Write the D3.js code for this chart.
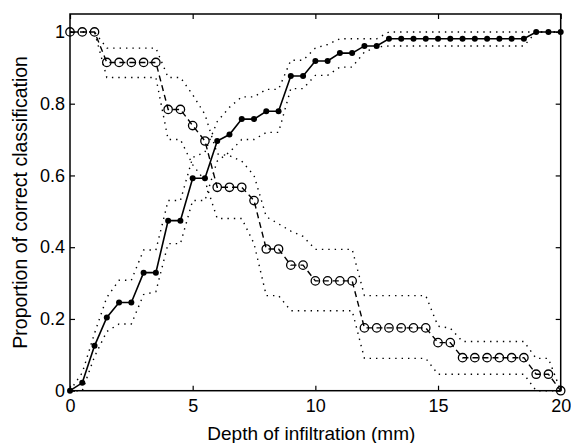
<!DOCTYPE html>
<html>
<head>
<meta charset="utf-8">
<script src="https://cdn.jsdelivr.net/npm/d3@7"></script>
<style>
  html, body { margin: 0; padding: 0; background: #fff; }
  svg { display: block; }
  text { font-family: "Liberation Sans", Arial, Helvetica, sans-serif; }
</style>
</head>
<body>
<svg id="chart" width="571" height="443"></svg>
<script>
// Depth of infiltration (mm)
const depth = [0, 0.5, 1, 1.5, 2, 2.5, 3, 3.5, 4, 4.5, 5, 5.5, 6, 6.5, 7, 7.5, 8, 8.5, 9, 9.5,
               10, 10.5, 11, 11.5, 12, 12.5, 13, 13.5, 14, 14.5, 15, 15.5, 16, 16.5, 17, 17.5, 18, 18.5, 19, 19.5, 20];

// Increasing series (filled dots, solid line)
const incValues = [0, 0.022, 0.125, 0.204, 0.246, 0.246, 0.329, 0.329, 0.474, 0.474,
                   0.592, 0.592, 0.696, 0.714, 0.757, 0.757, 0.779, 0.779, 0.877, 0.877,
                   0.919, 0.919, 0.941, 0.941, 0.961, 0.961, 0.981, 0.981, 0.981, 0.981,
                   0.981, 0.981, 0.981, 0.981, 0.981, 0.981, 0.981, 0.981, 1, 1, 1];
const incUpper = [0, 0.05, 0.16, 0.26, 0.308, 0.308, 0.392, 0.392, 0.53, 0.53,
                  0.65, 0.665, 0.75, 0.79, 0.819, 0.819, 0.84, 0.84, 0.921, 0.921,
                  0.955, 0.965, 0.981, 0.981, 0.981, 0.981, 1, 1, 1, 1,
                  1, 1, 1, 1, 1, 1, 1, 1, 1, 1, 1];
const incLower = [0, 0, 0.095, 0.165, 0.186, 0.186, 0.268, 0.276, 0.41, 0.41,
                  0.53, 0.53, 0.64, 0.665, 0.70, 0.70, 0.72, 0.72, 0.842, 0.842,
                  0.879, 0.879, 0.902, 0.902, 0.944, 0.958, 0.961, 0.961, 0.961, 0.961,
                  0.961, 0.961, 0.961, 0.961, 0.961, 0.961, 0.961, 0.961, 1, 1, 1];

// Decreasing series (open circles, dashed line)
const decValues = [1, 1, 1, 0.915, 0.915, 0.915, 0.915, 0.915, 0.784, 0.784,
                   0.739, 0.696, 0.567, 0.567, 0.567, 0.53, 0.395, 0.395, 0.35, 0.35,
                   0.306, 0.306, 0.306, 0.306, 0.175, 0.175, 0.175, 0.175, 0.175, 0.175,
                   0.134, 0.134, 0.092, 0.092, 0.092, 0.092, 0.092, 0.092, 0.046, 0.046, 0];
const decUpper = [1, 1, 1, 0.955, 0.955, 0.955, 0.955, 0.955, 0.873, 0.873,
                  0.825, 0.77, 0.66, 0.655, 0.64, 0.6, 0.485, 0.465, 0.445, 0.43,
                  0.394, 0.394, 0.394, 0.394, 0.265, 0.265, 0.265, 0.265, 0.265, 0.265,
                  0.18, 0.174, 0.137, 0.137, 0.137, 0.137, 0.137, 0.137, 0.09, 0.09, 0];
const decLower = [1, 1, 1, 0.873, 0.873, 0.873, 0.873, 0.873, 0.70, 0.70,
                  0.63, 0.585, 0.48, 0.48, 0.48, 0.41, 0.265, 0.265, 0.223, 0.223,
                  0.223, 0.223, 0.223, 0.223, 0.09, 0.09, 0.09, 0.09, 0.09, 0.09,
                  0.046, 0.046, 0.046, 0.046, 0.046, 0.046, 0.046, 0.046, 0, 0, 0];

const xTicks = [0, 5, 10, 15, 20];
const xTickLabels = ["0", "5", "10", "15", "20"];
const yTicks = [0, 0.2, 0.4, 0.6, 0.8, 1];
const yTickLabels = ["0", "0.2", "0.4", "0.6", "0.8", "1"];
const xTitle = "Depth of infiltration (mm)";
const yTitle = "Proportion of correct classification";

const svg = d3.select("#chart");
const W = 571, H = 443;
const L = 70, R = 560.7, T = 14, B = 390.7;

svg.append("rect").attr("width", W).attr("height", H).attr("fill", "#fff");

const x = d3.scaleLinear().domain([0, 20]).range([L, R]);
const y = d3.scaleLinear().domain([0, 1.05]).range([B, T]);

const FS = 18;

// Axes (ticks inward, MATLAB style)
const gx = svg.append("g").attr("transform", `translate(0,${B})`)
  .call(d3.axisBottom(x).tickValues(xTicks).tickFormat((d, i) => xTickLabels[i])
        .tickSizeInner(-5).tickSizeOuter(0).tickPadding(9));
const gxt = svg.append("g").attr("transform", `translate(0,${T})`)
  .call(d3.axisTop(x).tickValues(xTicks).tickFormat("")
        .tickSizeInner(-5).tickSizeOuter(0));
const gy = svg.append("g").attr("transform", `translate(${L},0)`)
  .call(d3.axisLeft(y).tickValues(yTicks).tickFormat((d, i) => yTickLabels[i])
        .tickSizeInner(-5).tickSizeOuter(0).tickPadding(5));
const gyr = svg.append("g").attr("transform", `translate(${R},0)`)
  .call(d3.axisRight(y).tickValues(yTicks).tickFormat("")
        .tickSizeInner(-5).tickSizeOuter(0));

[gx, gxt, gy, gyr].forEach(g => {
  g.select(".domain").remove();
  g.selectAll(".tick line").attr("stroke", "#000").attr("stroke-width", 1.2);
  g.selectAll("text").attr("fill", "#000").style("font-size", FS + "px")
    .style("font-family", '"Liberation Sans", Arial, Helvetica, sans-serif');
});

// Frame
svg.append("rect")
  .attr("x", L).attr("y", T).attr("width", R - L).attr("height", B - T)
  .attr("fill", "none").attr("stroke", "#000").attr("stroke-width", 1.5);

const line = vals => d3.line().x((d, i) => x(depth[i])).y((d, i) => y(vals[i]))(vals);

// Confidence bands (dotted)
[incUpper, incLower, decUpper, decLower].forEach(vals => {
  svg.append("path").attr("d", line(vals))
    .attr("fill", "none").attr("stroke", "#000").attr("stroke-width", 1.4)
    .attr("stroke-dasharray", "1.4,5");
});

// Increasing series: solid line with filled dots
svg.append("path").attr("d", line(incValues))
  .attr("fill", "none").attr("stroke", "#000").attr("stroke-width", 1.6);
svg.append("g").selectAll("circle").data(incValues).join("circle")
  .attr("cx", (d, i) => x(depth[i])).attr("cy", d => y(d))
  .attr("r", 3).attr("fill", "#000");

// Decreasing series: dashed line with open circles
svg.append("path").attr("d", line(decValues))
  .attr("fill", "none").attr("stroke", "#000").attr("stroke-width", 1.4)
  .attr("stroke-dasharray", "6,4");
svg.append("g").selectAll("circle").data(decValues).join("circle")
  .attr("cx", (d, i) => x(depth[i])).attr("cy", d => y(d))
  .attr("r", 4.2).attr("fill", "none").attr("stroke", "#000").attr("stroke-width", 1.3);

// Titles
svg.append("text").attr("x", (L + R) / 2 - 4).attr("y", 440)
  .attr("text-anchor", "middle").style("font-size", "19px").attr("fill", "#000")
  .text(xTitle);
svg.append("text").attr("transform", `translate(27,${(T + B) / 2}) rotate(-90)`)
  .attr("text-anchor", "middle").style("font-size", "19.5px").attr("fill", "#000")
  .text(yTitle);
</script>
</body>
</html>
